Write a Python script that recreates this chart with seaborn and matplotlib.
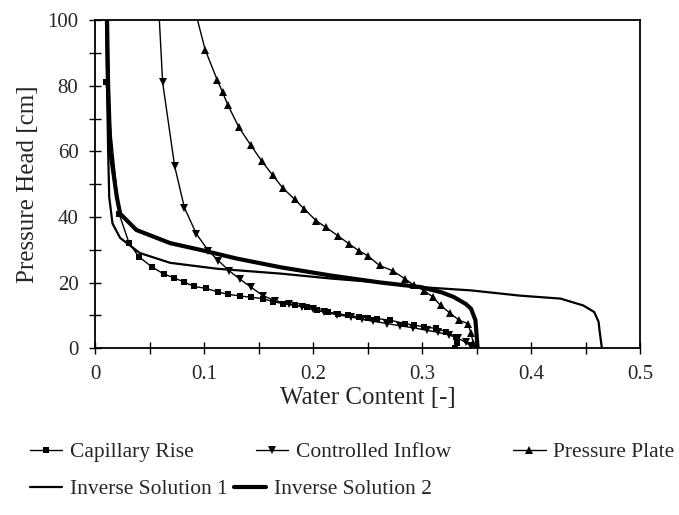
import matplotlib
matplotlib.use("Agg")
import matplotlib.pyplot as plt
from matplotlib.ticker import MultipleLocator, FuncFormatter
import seaborn as sns

# Capillary Rise
cap_theta = [0.010, 0.022, 0.031, 0.040, 0.052, 0.063, 0.072, 0.082, 0.091, 0.102,
             0.113, 0.122, 0.133, 0.143, 0.154, 0.163, 0.172, 0.183, 0.194, 0.204,
             0.214, 0.223, 0.232, 0.242, 0.250, 0.259, 0.271, 0.284, 0.293, 0.302,
             0.313, 0.322, 0.331, 0.332, 0.330]
cap_head = [81, 41, 32.2, 27.9, 24.8, 22.6, 21.5, 20.1, 18.8, 18.2,
            17.1, 16.4, 15.9, 15.5, 15.1, 14.2, 13.6, 13.0, 12.5, 11.5,
            11.0, 10.5, 10.0, 9.5, 9.3, 9.0, 8.5, 7.5, 7.0, 6.5,
            6.0, 5.0, 3.5, 1.5, 0]

# Controlled Inflow
ci_theta = [0.059, 0.062, 0.073, 0.082, 0.093, 0.104, 0.113, 0.123, 0.133, 0.143,
            0.154, 0.165, 0.178, 0.190, 0.200, 0.210, 0.222, 0.235, 0.245, 0.255,
            0.268, 0.280, 0.292, 0.305, 0.315, 0.325, 0.333, 0.340, 0.345]
ci_head = [100, 81, 55.5, 42.8, 34.8, 29.7, 26.7, 23.6, 21.0, 18.6,
           16.0, 14.5, 13.5, 12.6, 11.8, 11.0, 10.2, 9.5, 8.8, 8.2,
           7.5, 6.8, 6.2, 5.4, 4.8, 4.0, 3.0, 1.8, 0.5]

# Pressure Plate
pp_theta = [0.094, 0.101, 0.112, 0.117, 0.122, 0.132, 0.143, 0.153, 0.163, 0.172,
            0.183, 0.192, 0.203, 0.212, 0.223, 0.233, 0.242, 0.250, 0.261, 0.273,
            0.284, 0.293, 0.302, 0.310, 0.317, 0.326, 0.334, 0.342, 0.345, 0.347]
pp_head = [100, 91, 81.8, 78, 74, 67.3, 61.8, 57, 52.7, 48.9,
           45.4, 42.4, 38.8, 36.8, 34.2, 31.8, 29.7, 28.2, 25.2, 23.6,
           21.2, 19.1, 17.5, 15.6, 13.0, 10.6, 8.5, 7.5, 4.5, 1.5]

# Inverse Solution 1
inv1_theta = [0.010, 0.011, 0.012, 0.013, 0.016, 0.023, 0.041, 0.069, 0.112, 0.171,
              0.217, 0.262, 0.299, 0.345, 0.390, 0.427, 0.448, 0.458, 0.462, 0.463, 0.465]
inv1_head = [100, 80, 60, 46, 38, 33.6, 29, 26, 24.2, 22.7,
             21.2, 20, 18.6, 17.6, 16, 15.1, 13, 11, 8, 5, 0]

# Inverse Solution 2
inv2_theta = [0.011, 0.012, 0.014, 0.017, 0.020, 0.023, 0.038, 0.069, 0.100, 0.130,
              0.171, 0.217, 0.262, 0.299, 0.318, 0.329, 0.340, 0.345, 0.349, 0.351]
inv2_head = [100, 80, 60, 53, 46, 41, 36, 32, 29.7, 27.3,
             24.6, 22.1, 20, 18.6, 17, 15.6, 13.5, 12, 8.5, 0]

sns.set_style("ticks")
plt.rcParams['font.family'] = ['Liberation Serif', 'DejaVu Serif']

fig = plt.figure(figsize=(6.79, 5.15), dpi=100)
ax = fig.add_axes([0.140, 0.324, 0.8026, 0.637])

kw = dict(color="black", sort=False, estimator=None, ax=ax)
sns.lineplot(x=cap_theta, y=cap_head, marker="s", markersize=5, linewidth=1,
             markeredgewidth=0, label="Capillary Rise", **kw)
sns.lineplot(x=ci_theta, y=ci_head, marker="v", markersize=6, linewidth=1,
             markeredgewidth=0, markevery=list(range(1, len(ci_theta))),
             label="Controlled Inflow", **kw)
sns.lineplot(x=pp_theta, y=pp_head, marker="^", markersize=6, linewidth=1,
             markeredgewidth=0, markevery=list(range(1, len(pp_theta))),
             label="Pressure Plate", **kw)
sns.lineplot(x=inv1_theta, y=inv1_head, linewidth=1.6, label="Inverse Solution 1", **kw)
sns.lineplot(x=inv2_theta, y=inv2_head, linewidth=3, label="Inverse Solution 2", **kw)

ax.set_xlim(0, 0.5)
ax.set_ylim(0, 100)
ax.xaxis.set_major_locator(MultipleLocator(0.1))
ax.xaxis.set_minor_locator(MultipleLocator(0.05))
ax.yaxis.set_major_locator(MultipleLocator(20))
ax.yaxis.set_minor_locator(MultipleLocator(10))
ax.xaxis.set_major_formatter(FuncFormatter(lambda v, p: "0" if abs(v) < 1e-9 else f"{v:.1f}"))
ax.tick_params(which="both", direction="inout", length=8, width=1, color="black",
               labelsize=15, top=False, right=False)
ax.tick_params(axis="x", pad=8)
ax.tick_params(axis="y", pad=8)
for sp in ax.spines.values():
    sp.set_visible(True)
    sp.set_linewidth(1.3)
    sp.set_color("black")

ax.set_xlabel("Water Content [-]", fontsize=18, labelpad=2)
ax.set_ylabel("Pressure Head [cm]", fontsize=18, labelpad=6)

handles, labels = ax.get_legend_handles_labels()
ax.get_legend().remove()

# legende en deux lignes sous le graphe
fig.legend(handles[:3], labels[:3], loc="center left", bbox_to_anchor=(0.044, 1 - 452 / 515),
           ncol=3, frameon=False, fontsize=15.5, handlelength=1.5, handletextpad=0.35,
           columnspacing=2.9, borderpad=0, borderaxespad=0)
fig.legend(handles[3:], labels[3:], loc="center left", bbox_to_anchor=(0.044, 1 - 489 / 515),
           ncol=2, frameon=False, fontsize=15.5, handlelength=1.5, handletextpad=0.35,
           columnspacing=0.3, borderpad=0, borderaxespad=0)

fig.savefig("out.png", dpi=100)
